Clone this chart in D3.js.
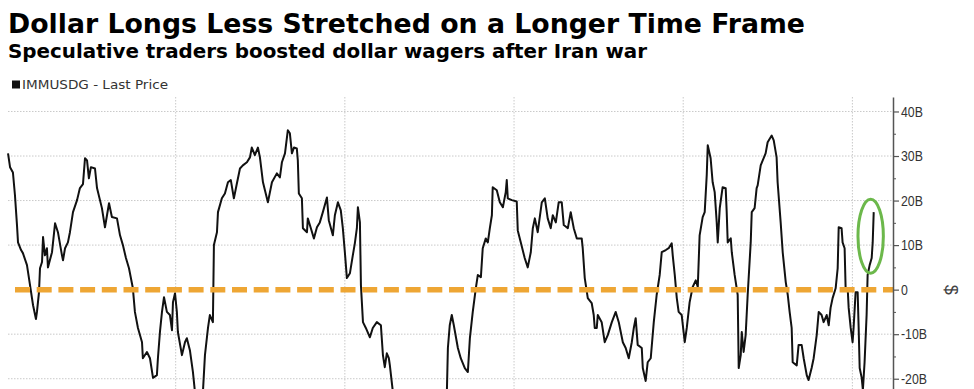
<!DOCTYPE html>
<html>
<head>
<meta charset="utf-8">
<script src="https://cdn.jsdelivr.net/npm/d3@7"></script>
<style>
  body { margin: 0; background: #fff; }
  svg { display: block; font-family: "DejaVu Sans", sans-serif; }
</style>
</head>
<body>
<div id="chart"></div>
<script>
const title = "Dollar Longs Less Stretched on a Longer Time Frame";
const subtitle = "Speculative traders boosted dollar wagers after Iran war";
const seriesName = "IMMUSDG - Last Price";
const unitLabel = "$";
const yTicks = [-20, -10, 0, 10, 20, 30, 40];
const yMinorTicks = [-25, -15, -5, 5, 15, 25, 35];
const gridPeriods = [1, 2, 3, 4, 5];

// position along the time axis, in grid periods
const period = [
  0.009,0.021,0.038,0.050,0.062,0.068,0.086,0.097,0.121,0.139,
  0.157,0.174,0.180,0.192,0.198,0.210,0.216,0.227,0.239,0.245,
  0.269,0.287,0.304,0.328,0.334,0.346,0.363,0.375,0.393,0.417,
  0.434,0.452,0.464,0.476,0.487,0.499,0.523,0.535,0.564,0.582,
  0.594,0.606,0.623,0.653,0.671,0.688,0.706,0.724,0.747,0.759,
  0.777,0.801,0.806,0.830,0.848,0.866,0.889,0.895,0.907,0.919,
  0.931,0.948,0.966,0.978,0.984,0.996,1.007,1.013,1.037,1.055,
  1.066,1.084,1.102,1.114,1.137,1.161,1.173,1.191,1.202,1.220,
  1.226,1.244,1.250,1.273,1.291,1.309,1.326,1.344,1.362,1.380,
  1.397,1.421,1.439,1.450,1.468,1.486,1.498,1.516,1.545,1.569,
  1.598,1.616,1.628,1.646,1.663,1.675,1.687,1.699,1.716,1.722,
  1.728,1.746,1.752,1.776,1.781,1.799,1.817,1.835,1.852,1.870,
  1.894,1.905,1.929,1.941,1.959,1.976,1.988,2.000,2.012,2.030,
  2.047,2.059,2.071,2.077,2.089,2.095,2.107,2.124,2.148,2.165,
  2.189,2.213,2.225,2.236,2.248,2.260,2.266,2.284,2.350,2.450,
  2.550,2.603,2.609,2.620,2.632,2.644,2.668,2.685,2.709,2.727,
  2.739,2.756,2.774,2.786,2.804,2.815,2.833,2.845,2.857,2.869,
  2.874,2.898,2.916,2.934,2.951,2.957,2.963,2.987,3.016,3.022,
  3.040,3.063,3.081,3.099,3.111,3.123,3.140,3.164,3.182,3.199,
  3.217,3.229,3.247,3.264,3.282,3.294,3.318,3.335,3.353,3.371,
  3.400,3.406,3.418,3.436,3.459,3.471,3.477,3.489,3.495,3.518,
  3.536,3.554,3.578,3.601,3.619,3.643,3.660,3.678,3.696,3.708,
  3.719,3.731,3.755,3.761,3.778,3.790,3.808,3.826,3.843,3.861,
  3.873,3.897,3.914,3.932,3.938,3.950,3.962,3.973,3.991,4.009,
  4.021,4.038,4.056,4.074,4.086,4.097,4.115,4.127,4.139,4.145,
  4.162,4.174,4.186,4.198,4.204,4.216,4.233,4.251,4.257,4.263,
  4.281,4.287,4.304,4.322,4.328,4.340,4.346,4.357,4.369,4.381,
  4.399,4.405,4.422,4.434,4.440,4.458,4.470,4.487,4.499,4.523,
  4.535,4.552,4.558,4.576,4.588,4.606,4.618,4.629,4.641,4.647,
  4.671,4.682,4.700,4.712,4.730,4.741,4.759,4.771,4.789,4.801,
  4.818,4.830,4.848,4.860,4.871,4.883,4.901,4.913,4.919,4.936,
  4.942,4.954,4.960,4.972,4.978,4.990,5.001,5.007,5.019,5.031,
  5.037,5.043,5.055,5.062,5.072,5.084,5.090,5.102,5.114,5.120,
  5.126
];

// net speculative dollar position, $ billions
const netLong = [
  30.6,27.5,26.3,21.2,14.5,10.6,8.9,8.2,5.5,1.0,
  -3.5,-6.6,-5.0,-0.6,4.8,6.2,11.8,7.7,9.3,5.0,
  8.4,14.9,12.9,7.7,6.6,9.3,10.6,12.9,17.4,20.1,
  22.8,23.7,29.5,29.0,25.0,27.5,27.2,22.8,18.3,14.0,
  16.7,19.4,16.3,16.0,12.2,10.0,7.1,4.8,0.3,-5.0,
  -8.6,-11.8,-15.4,-14.0,-15.4,-19.8,-19.2,-15.4,-9.5,-5.0,
  -1.7,-5.0,-5.7,-9.1,-2.8,-0.8,-5.0,-9.5,-14.7,-11.8,
  -10.9,-13.6,-18.5,-23,-26,-23,-14.7,-8.6,-5.7,-7.3,
  10.0,12.9,17.4,20.5,21.6,24.1,24.6,20.5,23.9,27.2,
  27.9,28.6,29.7,31.9,30.2,31.9,29.7,24.1,19.6,24.1,
  26.1,25.2,28.6,30.6,35.8,35.1,30.6,31.9,31.7,29.0,
  21.6,20.5,13.8,12.9,16.0,13.8,11.5,14.0,15.1,17.4,
  20.7,15.6,12.2,16.7,19.6,17.8,13.8,8.4,2.6,3.7,
  7.7,10.4,13.8,18.5,15.1,1.0,-7.3,-8.6,-10.7,-8.6,
  -7.3,-8.0,-14.7,-17.4,-14.3,-15.4,-17.0,-23,-27,-30,
  -26,-23,-13.1,-8.0,-5.7,-8.0,-13.1,-15.4,-17.6,-18.5,
  -10.9,-5.0,0.3,3.3,2.8,9.3,11.5,10.6,13.8,16.7,
  23.0,22.3,19.6,18.5,21.9,24.6,20.5,20.1,19.8,13.3,
  10.6,7.1,5.0,8.4,13.8,16.0,12.9,19.6,20.5,16.0,
  13.8,16.7,15.1,19.6,19.6,14.5,13.8,17.4,13.8,11.5,
  11.5,9.3,2.6,-1.9,-3.0,-5.7,-8.6,-8.6,-5.7,-7.3,
  -11.8,-10.2,-7.3,-5.0,-7.3,-11.8,-13.1,-15.4,-11.8,-8.6,
  -6.4,-12.4,-13.1,-17.6,-20.5,-16.3,-15.4,-7.3,-1.2,3.3,
  8.4,8.9,9.3,10.4,7.7,3.3,-1.9,-5.0,-5.7,-11.8,
  -8.6,-2.8,0.6,2.1,0.6,12.2,16.3,17.4,25.7,32.4,
  29.5,24.1,21.9,15.1,10.6,18.3,23.0,22.8,17.4,10.6,
  11.5,8.4,3.3,-1.2,-17.6,-14.7,-9.5,-14.0,-10.2,-1.2,
  10.6,17.4,18.3,22.8,23.4,27.9,29.0,30.6,33.1,34.6,
  33.5,29.7,24.1,15.1,8.4,1.7,-1.2,-5.0,-8.6,-16.3,
  -17.0,-12.4,-12.4,-15.4,-19.2,-20.3,-17.6,-15.4,-10.2,-5.0,
  -5.7,-7.3,-5.7,-8.0,-4.1,-1.9,0.3,4.8,14.0,13.8,
  10.6,9.3,0.3,0.3,-4.1,-8.6,-11.8,-8.6,-0.6,-0.6,
  -8.6,-17.6,-19.8,-22.5,-16.3,-5.7,3.3,5.5,7.1,10.6,
  17.4
];

// the recent jump that the green ring marks
const highlight = { period: 5.108, value: 12.0, halfPeriod: 0.075, halfValue: 8.3 };

const theme = {
  line: "#111",
  zero: "#eea634",
  ring: "#6cb84b",
  grid: "#c9c9c9",
  axis: "#555",
  text: "#333",
};

const width = 974;
const height = 389;
const margin = { left: 6.5, right: 81, top: 97, bottom: -12 };

const data = d3.zip(period, netLong).map(([x, y]) => ({ x, y }));

const svg = d3
  .select("#chart")
  .append("svg")
  .attr("width", width)
  .attr("height", height);

svg.append("rect").attr("width", width).attr("height", height).attr("fill", "#fff");

const xScale = d3
  .scaleLinear()
  .domain([0, 5.24])
  .range([margin.left, width - margin.right]);

const yScale = d3
  .scaleLinear()
  .domain([-25, 43.25])
  .range([height - margin.bottom, margin.top]);

const plotRight = width - margin.right;

// titles
svg
  .append("text")
  .attr("x", 8)
  .attr("y", 33)
  .attr("font-size", 27)
  .attr("font-weight", "bold")
  .attr("fill", "#000")
  .attr("textLength", 797)
  .attr("lengthAdjust", "spacingAndGlyphs")
  .text(title);

svg
  .append("text")
  .attr("x", 8)
  .attr("y", 58)
  .attr("font-size", 19)
  .attr("font-weight", "bold")
  .attr("fill", "#000")
  .attr("textLength", 639)
  .attr("lengthAdjust", "spacingAndGlyphs")
  .text(subtitle);

// legend
svg
  .append("rect")
  .attr("x", 12)
  .attr("y", 80.5)
  .attr("width", 8)
  .attr("height", 8)
  .attr("fill", theme.line);
svg
  .append("text")
  .attr("x", 22)
  .attr("y", 89)
  .attr("font-size", 12.5)
  .attr("fill", theme.text)
  .attr("textLength", 146)
  .attr("lengthAdjust", "spacingAndGlyphs")
  .text(seriesName);

// grid
const grid = svg.append("g");
grid
  .selectAll("line.h")
  .data(yTicks.filter((d) => d !== 0))
  .join("line")
  .attr("x1", 8)
  .attr("x2", plotRight)
  .attr("y1", (d) => yScale(d))
  .attr("y2", (d) => yScale(d))
  .attr("stroke", theme.grid)
  .attr("stroke-width", 1)
  .attr("stroke-dasharray", "1.5 1.5");
grid
  .selectAll("line.v")
  .data(gridPeriods)
  .join("line")
  .attr("x1", (d) => xScale(d))
  .attr("x2", (d) => xScale(d))
  .attr("y1", margin.top)
  .attr("y2", height)
  .attr("stroke", theme.grid)
  .attr("stroke-width", 1)
  .attr("stroke-dasharray", "1.5 1.5");

// series
svg
  .append("clipPath")
  .attr("id", "plotClip")
  .append("rect")
  .attr("x", margin.left)
  .attr("y", margin.top)
  .attr("width", plotRight - margin.left)
  .attr("height", height - margin.top);

const line = d3
  .line()
  .x((d) => xScale(d.x))
  .y((d) => yScale(d.y));

svg
  .append("path")
  .attr("clip-path", "url(#plotClip)")
  .attr("fill", "none")
  .attr("stroke", theme.line)
  .attr("stroke-width", 2)
  .attr("stroke-linejoin", "round")
  .attr("d", line(data));

// zero line
svg
  .append("line")
  .attr("x1", 15)
  .attr("x2", plotRight)
  .attr("y1", yScale(0))
  .attr("y2", yScale(0))
  .attr("stroke", theme.zero)
  .attr("stroke-width", 5.5)
  .attr("stroke-dasharray", "15 6.7");

// ring round the latest move
svg
  .append("ellipse")
  .attr("cx", xScale(highlight.period))
  .attr("cy", yScale(highlight.value))
  .attr("rx", xScale(highlight.period + highlight.halfPeriod) - xScale(highlight.period))
  .attr("ry", yScale(highlight.value - highlight.halfValue) - yScale(highlight.value))
  .attr("fill", "none")
  .attr("stroke", theme.ring)
  .attr("stroke-width", 3);

// y axis
const yAxis = svg
  .append("g")
  .attr("transform", `translate(${plotRight}, 0)`)
  .call(
    d3
      .axisRight(yScale)
      .tickValues(yTicks)
      .tickSize(6)
      .tickSizeOuter(0)
      .tickPadding(2)
      .tickFormat((d) => (d === 0 ? "0" : `${d}B`))
  );
yAxis.select(".domain").attr("stroke", theme.axis).attr("stroke-width", 1.5);
yAxis.selectAll(".tick line").attr("stroke", theme.axis).attr("stroke-width", 1.2);
yAxis
  .selectAll(".tick text")
  .attr("fill", theme.text)
  .attr("font-family", "'Liberation Sans', Arial, sans-serif")
  .attr("font-size", 15)
  .each(function () {
    const w = this.getComputedTextLength();
    d3.select(this).attr("textLength", w * 0.82).attr("lengthAdjust", "spacingAndGlyphs");
  });

svg
  .append("g")
  .attr("transform", `translate(${plotRight}, 0)`)
  .call(d3.axisRight(yScale).tickValues(yMinorTicks).tickSize(3).tickFormat(""))
  .call((g) => g.select(".domain").remove())
  .selectAll(".tick line")
  .attr("stroke", theme.axis)
  .attr("stroke-width", 1);

svg
  .append("text")
  .attr("transform", `translate(951, ${yScale(0)}) rotate(90)`)
  .attr("text-anchor", "middle")
  .attr("dy", "0.35em")
  .attr("font-family", "'Liberation Sans', Arial, sans-serif")
  .attr("font-size", 18)
  .attr("fill", "#444")
  .text(unitLabel);
</script>
</body>
</html>
